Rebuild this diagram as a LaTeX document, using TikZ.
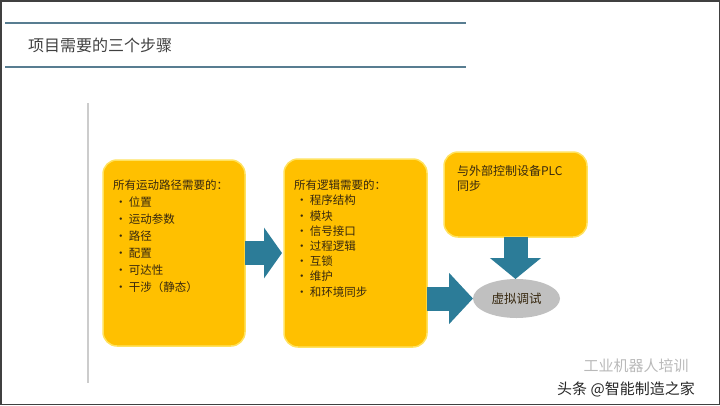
\documentclass[tikz,border=0pt]{standalone}
\usepackage{fontspec}
\setmainfont{Noto Sans CJK SC}
\usetikzlibrary{positioning, arrows.meta, shapes.geometric}

\definecolor{stepyellow}{RGB}{255,192,0}
\definecolor{glowyellow}{RGB}{255,226,95}
\definecolor{arrowteal}{RGB}{44,124,152}
\definecolor{titleline}{RGB}{88,125,145}
\definecolor{ellgray}{RGB}{192,192,192}
\definecolor{inktext}{RGB}{55,40,15}

\newcommand{\stepitem}[1]{\makebox[16pt][l]{\hspace{2pt}\textbullet}#1}

\begin{document}
\begin{tikzpicture}[
    x=1pt, y=-1pt,
    every node/.style={inner sep=0pt, outer sep=0pt},
    stepbox/.style={draw=glowyellow, line width=1.5pt, fill=stepyellow, rounded corners=14pt},
    steptext/.style={text=inktext, align=left},
    bigarrow/.style={arrowteal, line width=24pt, -{Triangle[width=50pt, length=#1]}},
    bigarrow/.default=20pt,
]
\useasboundingbox (0,0) rectangle (720,405);

% === Slide frame and title bar ===
\draw[black!75, line width=1.5pt] (0.75,0.75) rectangle (719.25,404.25);
\draw[titleline, line width=2pt] (5,23) -- (466,23);
\draw[titleline, line width=2pt] (5,67) -- (466,67);
\node[anchor=west, text=black!75, font=\fontsize{16}{16}\selectfont] (title) at (28,45) {项目需要的三个步骤};

% === Left guide line ===
\draw[black!20, line width=1.5pt] (88,103) -- (88,383);

% === The three step boxes ===
\node[stepbox, minimum width=142pt, minimum height=186pt] (box1) at (174,253) {};
\node[stepbox, minimum width=143pt, minimum height=188pt] (box2) at (355.5,253) {};
\node[stepbox, minimum width=143pt, minimum height=85pt] (box3) at (515.5,194.5) {};

% === Goal: virtual commissioning ===
\node[ellipse, fill=ellgray, minimum width=87pt, minimum height=39pt,
      text=inktext, font=\fontsize{12.5}{12.5}\selectfont] (vc) at (516.5,298.5) {虚拟调试};

% === Box texts ===
\node[steptext, font=\fontsize{11.5}{17}\selectfont, below right=20pt and 10pt of box1.north west] (t1) {%
所有运动路径需要的：\\
\stepitem{位置}\\
\stepitem{运动参数}\\
\stepitem{路径}\\
\stepitem{配置}\\
\stepitem{可达性}\\
\stepitem{干涉（静态）}};

\node[steptext, font=\fontsize{11.5}{15.2}\selectfont, below right=21pt and 10pt of box2.north west] (t2) {%
所有逻辑需要的：\\
\stepitem{程序结构}\\
\stepitem{模块}\\
\stepitem{信号接口}\\
\stepitem{过程逻辑}\\
\stepitem{互锁}\\
\stepitem{维护}\\
\stepitem{和环境同步}};

\node[steptext, font=\fontsize{12}{15}\selectfont, below right=13pt and 13pt of box3.north west] (t3) {%
与外部控制设备PLC\\
同步};

% === Block arrows ===
\draw[bigarrow=18pt, shorten >=2pt] (box1.east) -- (box2.west);
\draw[bigarrow=24pt] (box2.east |- vc.west) -- (vc.west);
\draw[bigarrow=21pt] (box3.south) -- (box3.south |- vc.north);

% === Watermark ===
\node[text=gray!55, font=\fontsize{15}{15}\selectfont] (wm1) at (636,366) {工业机器人培训};
\node[text=black!85, font=\fontsize{15}{15}\selectfont] (wm2) at (626,389) {头条 @智能制造之家};

\end{tikzpicture}
\end{document}
